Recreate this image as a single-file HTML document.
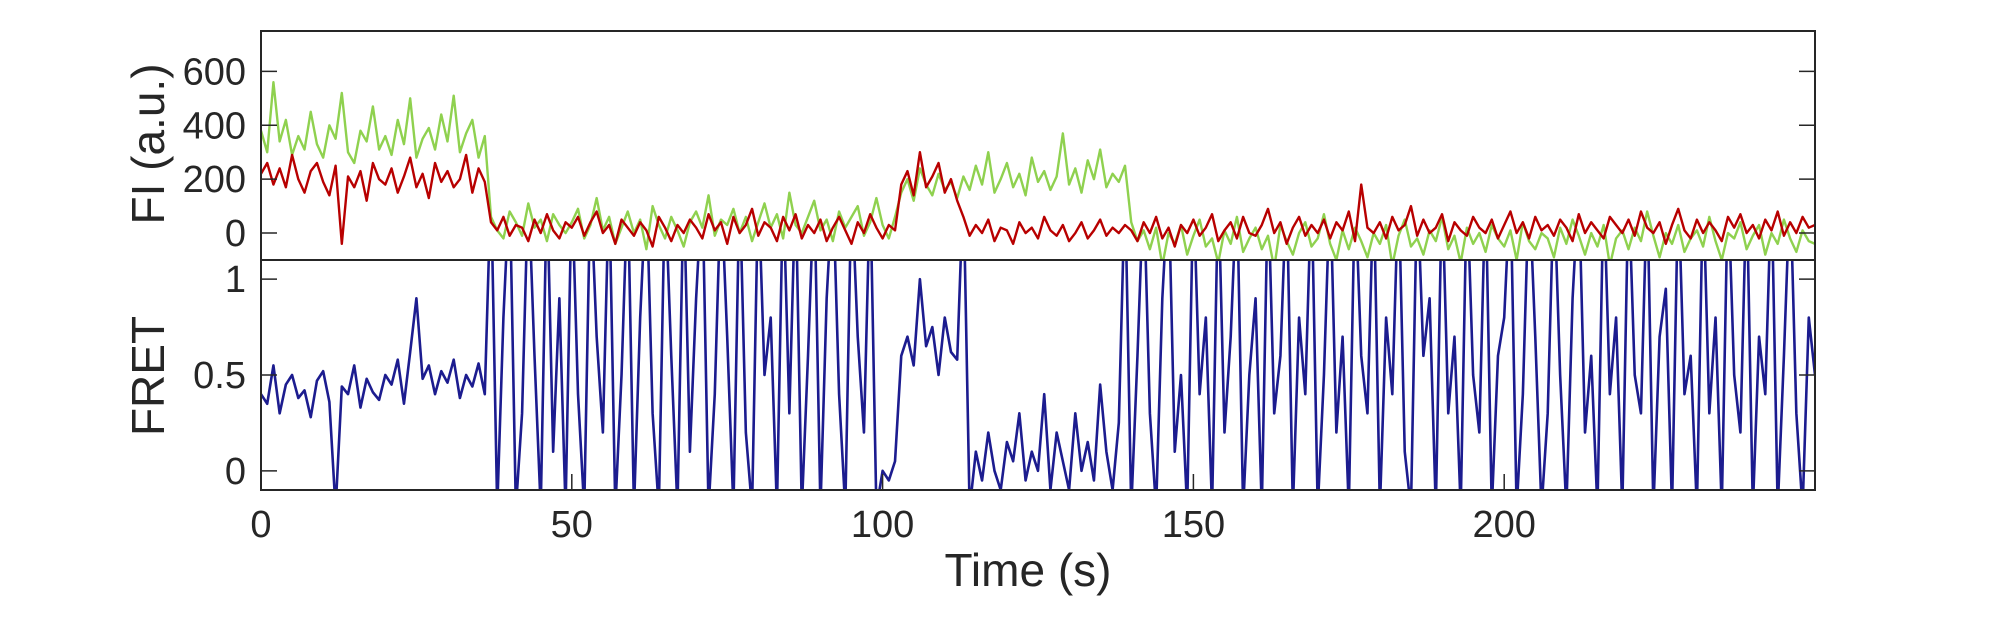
<!DOCTYPE html>
<html><head><meta charset="utf-8"><style>
html,body{margin:0;padding:0;background:#fff;}
svg{display:block;font-family:"Liberation Sans",sans-serif;}
</style></head><body>
<svg id="chart" width="2005" height="625" viewBox="0 0 2005 625" xmlns="http://www.w3.org/2000/svg">
<defs>
<clipPath id="clipTop"><rect x="261" y="31" width="1554" height="229"/></clipPath>
<clipPath id="clipBot"><rect x="261" y="260" width="1554" height="230"/></clipPath>
</defs>
<g id="topSeries" clip-path="url(#clipTop)"></g>
<g id="botSeries" clip-path="url(#clipBot)"></g>
<g id="axes"></g>
<text x="0" y="0" transform="translate(164,144) rotate(-90)" text-anchor="middle" font-size="46" fill="#262626">FI (a.u.)</text>
<text x="0" y="0" transform="translate(164,376) rotate(-90)" text-anchor="middle" font-size="46" fill="#262626">FRET</text>
<text x="1028" y="586" text-anchor="middle" font-size="46" fill="#262626">Time (s)</text>
</svg>
<script>
const dt = 1;
const donor = [380,300,560,340,420,290,360,310,450,330,
280,400,350,520,300,260,380,340,470,310,
360,290,420,330,500,280,350,390,310,440,
340,510,300,370,420,280,360,
60,10,-20,80,40,-10,110,20,50,-30,70,30,0,
40,90,-20,30,130,10,60,-40,20,80,
0,50,-60,100,30,-20,60,10,-50,40,
80,20,140,-10,50,30,90,0,60,-30,
40,110,20,70,-20,150,30,0,60,120,
10,50,-30,80,20,60,100,-10,40,130,
30,-20,60,
150,200,120,240,180,140,220,160,190,130,
210,160,250,180,300,150,200,260,170,220,140,280,190,230,160,210,370,180,240,150,270,200,310,170,220,190,250,
40,-30,10,-60,20,-120,0,-40,30,-80,
-10,50,-50,-20,-110,10,-40,60,-70,-20,
20,-60,-10,-130,30,-30,-80,0,40,-50,
-20,70,-40,-100,10,-60,20,-30,-90,0,
-40,30,-120,-10,50,-50,-20,-80,10,-30,
60,-60,-10,-110,20,-40,0,-70,30,-20,
-50,10,-100,40,-30,-60,0,-20,-90,20,
-40,50,-10,-80,0,-50,30,-120,-20,10,
-60,20,-30,80,-10,-90,0,-40,30,-70,
-20,10,-50,60,-30,-100,0,-20,40,-60,
-10,30,-80,0,-40,50,-20,-70,10,-30,
-40];
const acceptor = [220,260,180,240,170,290,200,150,230,260,
190,140,250,-40,210,170,230,120,260,200,
180,240,150,210,280,170,220,130,260,190,
230,170,200,290,150,240,190,
40,10,60,-10,30,20,-30,50,0,70,10,-20,40,
20,60,-10,40,80,0,30,-40,50,20,
-10,40,10,-50,60,20,-30,30,0,50,
20,-20,70,10,40,-40,60,0,30,90,
-10,40,20,-30,60,10,70,-20,30,0,
50,-30,20,60,10,-40,40,0,70,20,
-20,30,10,
180,230,140,300,170,210,260,150,200,120,
60,-10,30,0,50,-30,20,10,-40,40,0,20,-20,60,10,-10,30,-30,0,40,-20,10,50,-10,20,0,30,
10,-30,40,0,60,-20,20,-50,30,0,
50,-10,20,70,-30,10,40,-20,60,0,
-10,30,90,0,40,-40,20,60,-10,30,
0,50,-20,40,10,80,-30,180,20,0,
40,-20,60,10,30,100,-10,50,0,20,
70,-30,40,10,-10,60,20,0,50,-20,
30,80,0,40,-20,60,10,30,-10,50,
20,-30,70,0,40,10,-20,60,30,0,
50,-10,80,20,0,40,-40,30,90,10,
-20,50,0,40,10,-30,60,20,70,0,
30,-20,50,10,80,-10,40,0,60,20,
30];
const fret = [.40,.35,.55,.30,.45,.50,.38,.42,.28,.47,
.52,.36,-.2,.44,.40,.55,.33,.48,.41,.37,
.50,.45,.58,.35,.62,.90,.48,.55,.40,.52,
.46,.58,.38,.50,.44,.56,.40,
1.5,-.2,.8,1.5,-.2,.3,1.5,.6,-.2,1.5,.1,.9,-.2,
1.5,.4,-.2,1.5,.7,.2,1.5,-.2,.5,1.5,
-.2,.8,1.5,.3,-.2,1.5,.6,-.2,1.5,.1,
.9,1.5,-.2,.4,1.5,.7,-.2,1.5,.2,-.2,
1.5,.5,.8,-.2,1.5,.3,1.5,-.2,.6,1.5,
-.2,.9,1.5,.4,-.2,1.5,.7,.2,1.5,-.2,
0,-.05,.05,
.60,.70,.55,1.0,.65,.75,.50,.80,.62,.58,
1.5,-.2,.1,-.05,.2,0,-.1,.15,.05,.3,-.05,.1,0,.4,-.1,.2,.05,-.1,.3,0,.15,-.05,.45,.1,-.1,.25,1.5,
-.2,.6,1.5,.3,-.2,.9,1.5,.1,.5,-.2,
1.5,.4,.8,-.2,1.5,.2,.7,1.5,-.2,.5,
.9,-.2,1.5,.3,.6,1.5,-.2,.8,.4,1.5,
-.2,.5,1.5,.2,.7,-.2,1.5,.6,.3,1.5,
-.2,.8,.4,1.5,.1,-.2,1.5,.6,.9,-.2,
1.5,.3,.7,-.2,1.5,.5,.2,1.5,-.2,.6,
.8,1.5,-.2,.4,1.5,.7,-.2,.3,1.5,.5,
-.2,.9,1.5,.2,.6,-.2,1.5,.4,.8,-.2,
1.5,.5,.3,1.5,-.2,.7,.95,-.2,1.5,.4,
.6,-.2,1.5,.3,.8,-.2,1.5,.5,.2,1.5,
-.2,.7,.4,1.5,-.2,.6,1.5,.3,-.2,.8,
.5];
const xTicks = [0,50,100,150,200];
const fiTicks = [0,200,400,600];
const fretTicks = [0,0.5,1];
const fretTickLabels = ["0","0.5","1"];

const NS = "http://www.w3.org/2000/svg";
const L = 261, R = 1815, T1 = 31, B1 = 260, T2 = 260, B2 = 490;
const xMin = 0, xMax = 250, fiMin = -100, fiMax = 750, frMin = -0.1, frMax = 1.1;
function xs(v){ return L + (v - xMin) / (xMax - xMin) * (R - L); }
function yFI(v){ return B1 - (v - fiMin) / (fiMax - fiMin) * (B1 - T1); }
function yFR(v){ return B2 - (v - frMin) / (frMax - frMin) * (B2 - T2); }
function mk(tag, attrs, parent){
  const e = document.createElementNS(NS, tag);
  for (const k in attrs) e.setAttribute(k, attrs[k]);
  parent.appendChild(e); return e;
}
function pathFor(arr, yf){
  let d = "";
  arr.forEach((v,i)=>{ d += (i ? "L" : "M") + xs(i*dt).toFixed(2) + "," + yf(v).toFixed(2); });
  return d;
}
const topG = document.getElementById("topSeries");
const botG = document.getElementById("botSeries");
const axG = document.getElementById("axes");

let p = mk("path", {d: pathFor(donor, yFI), fill:"none", stroke:"#8fd14f", "stroke-width":"2.4", "stroke-linejoin":"round"}, topG);


p = mk("path", {d: pathFor(acceptor, yFI), fill:"none", stroke:"#b80000", "stroke-width":"2.4", "stroke-linejoin":"round"}, topG);


p = mk("path", {d: pathFor(fret, yFR), fill:"none", stroke:"#1c1c8f", "stroke-width":"2.6", "stroke-linejoin":"round"}, botG);



let r = mk("rect", {x:L, y:T1, width:R-L, height:B1-T1, fill:"none", stroke:"#262626", "stroke-width":"2"}, axG);


r = mk("rect", {x:L, y:T2, width:R-L, height:B2-T2, fill:"none", stroke:"#262626", "stroke-width":"2"}, axG);



fiTicks.forEach(v=>{
  const y = yFI(v);
  let t = mk("path", {d:`M${L},${y}h16M${R},${y}h-16`, stroke:"#262626", "stroke-width":"1.5"}, axG);
  
  
  let tx = mk("text", {x:246, y:y+13, "text-anchor":"end", "font-size":"38", fill:"#262626"}, axG);
  tx.textContent = String(v);
  
  
});
fretTicks.forEach((v,i)=>{
  const y = yFR(v);
  let t = mk("path", {d:`M${L},${y}h16M${R},${y}h-16`, stroke:"#262626", "stroke-width":"1.5"}, axG);
  
  
  let tx = mk("text", {x:246, y:y+13, "text-anchor":"end", "font-size":"38", fill:"#262626"}, axG);
  tx.textContent = fretTickLabels[i];
  
  
});
xTicks.forEach(v=>{
  const x = xs(v);
  let t = mk("path", {d:`M${x},${B2}v-16`, stroke:"#262626", "stroke-width":"1.5"}, axG);
  
  
  let tx = mk("text", {x:x, y:537, "text-anchor":"middle", "font-size":"38", fill:"#262626"}, axG);
  tx.textContent = String(v);
  
  
});
</script>
</body></html>
